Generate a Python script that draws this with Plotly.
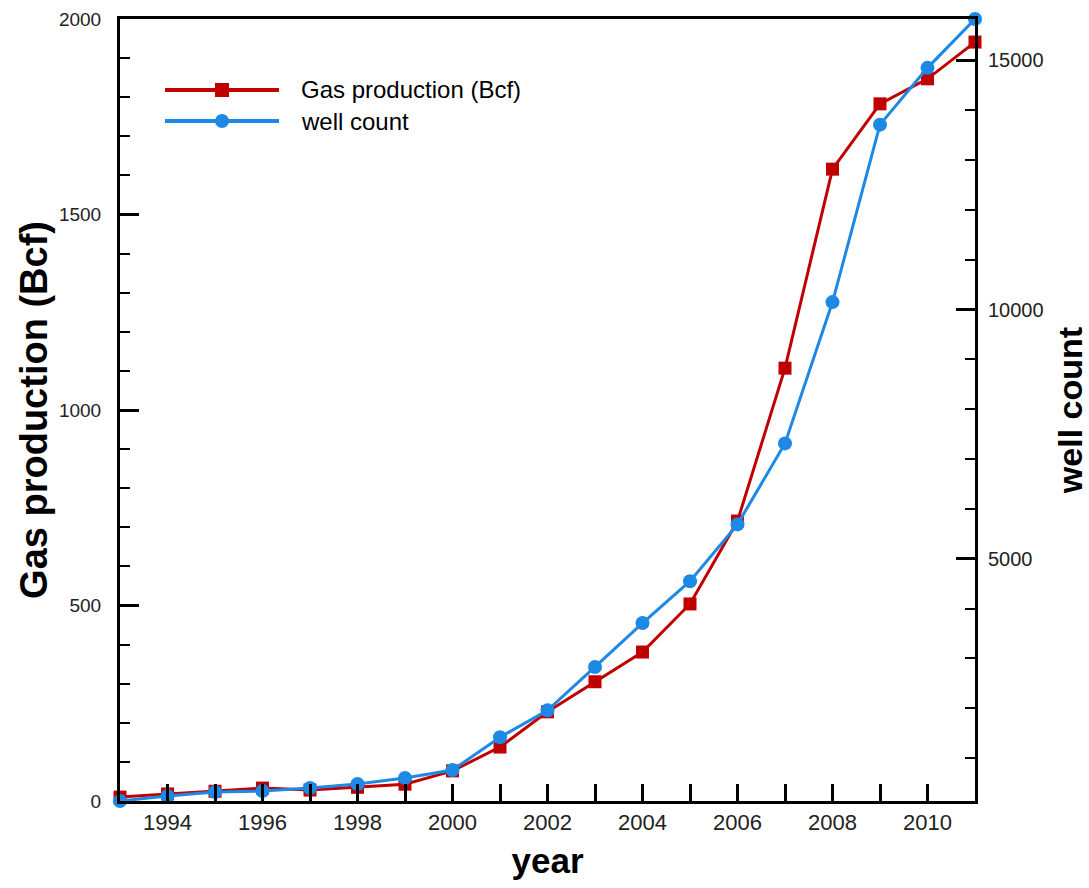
import plotly.graph_objects as go

# Annual series
years = list(range(1993, 2012))
gas_bcf = [10, 18, 25, 33, 28, 35, 43, 77, 138, 228, 305, 381, 504, 716,
           1107, 1616, 1783, 1847, 1941]
well_count = [140, 240, 320, 340, 400, 480, 600, 760, 1420, 1960, 2830, 3710,
              4550, 5690, 7315, 10150, 13710, 14850, 15830]

RED = "#C00000"
BLUE = "#1E88E5"
FONT = "Liberation Sans, Arial, sans-serif"

# plot-area geometry in pixels (for positioning the hand-drawn legend)
W, H = 1089, 888
ML, MR, MT, MB = 120, 114, 19, 87
PW, PH = W - ML - MR, H - MT - MB


def px_x(x):
    return (x - ML) / PW


def px_y(y):
    return (H - MB - y) / PH


fig = go.Figure()
fig.add_trace(go.Scatter(
    x=years, y=gas_bcf, name="Gas production (Bcf)", mode="lines+markers",
    line=dict(color=RED, width=3), marker=dict(symbol="square", size=13, color=RED),
    cliponaxis=False, yaxis="y"))
fig.add_trace(go.Scatter(
    x=years, y=well_count, name="well count", mode="lines+markers",
    line=dict(color=BLUE, width=3), marker=dict(symbol="circle", size=14, color=BLUE),
    cliponaxis=False, yaxis="y2"))

axis_common = dict(showline=True, linecolor="black", linewidth=3, automargin=False,
                   ticks="inside", tickcolor="black", showgrid=False, zeroline=False)

fig.update_layout(
    width=W, height=H, autosize=False,
    margin=dict(l=ML, r=MR, t=MT, b=MB, pad=0, autoexpand=False),
    paper_bgcolor="white", plot_bgcolor="white",
    showlegend=False,
    font=dict(family=FONT, color="#222"),
    xaxis=dict(
        **axis_common, mirror=True, range=[1993, 2011], tick0=1994, dtick=2,
        ticklen=17, tickwidth=3,
        minor=dict(dtick=1, tick0=1993, ticklen=17, tickwidth=3, ticks="inside",
                   tickcolor="black", showgrid=False),
        tickfont=dict(size=22, color="#222"),
        title=dict(text="year", font=dict(size=35, color="black", weight="bold"),
                   standoff=15),
    ),
    yaxis=dict(
        **axis_common, range=[0, 2000], dtick=500, ticklen=19, tickwidth=3,
        ticklabelstandoff=12,
        minor=dict(dtick=100, ticklen=10, tickwidth=2, ticks="inside",
                   tickcolor="black", showgrid=False),
        tickfont=dict(size=19, color="#222"),
        title=dict(text="Gas production (Bcf)",
                   font=dict(size=38, color="black", weight="bold"), standoff=0),
    ),
    yaxis2=dict(
        **axis_common, overlaying="y", side="right", range=[140, 15830],
        dtick=5000, tick0=0, tickformat="d", ticklen=19, tickwidth=3,
        ticklabelstandoff=6,
        minor=dict(dtick=1000, ticklen=10, tickwidth=2, ticks="inside",
                   tickcolor="black", showgrid=False),
        tickfont=dict(size=20, color="#222"),
        title=dict(text="well count", font=dict(size=34, color="black", weight="bold"),
                   standoff=18),
    ),
)

# legend drawn inside the plot area
legend_rows = [("Gas production (Bcf)", RED, "square", 90),
               ("well count", BLUE, "circle", 121)]
for label, color, sym, ypx in legend_rows:
    fig.add_shape(type="line", xref="paper", yref="paper",
                  x0=px_x(165), x1=px_x(279), y0=px_y(ypx), y1=px_y(ypx),
                  line=dict(color=color, width=4))
    shape_type = "rect" if sym == "square" else "circle"
    fig.add_shape(type=shape_type, xref="paper", yref="paper",
                  x0=px_x(215), x1=px_x(229), y0=px_y(ypx + 7), y1=px_y(ypx - 7),
                  fillcolor=color, line=dict(color=color, width=0))
    fig.add_annotation(text=label, xref="paper", yref="paper",
                       x=px_x(299), y=px_y(ypx), xanchor="left", yanchor="middle",
                       showarrow=False, font=dict(family=FONT, size=24, color="black"))

fig.write_html("out.html")
